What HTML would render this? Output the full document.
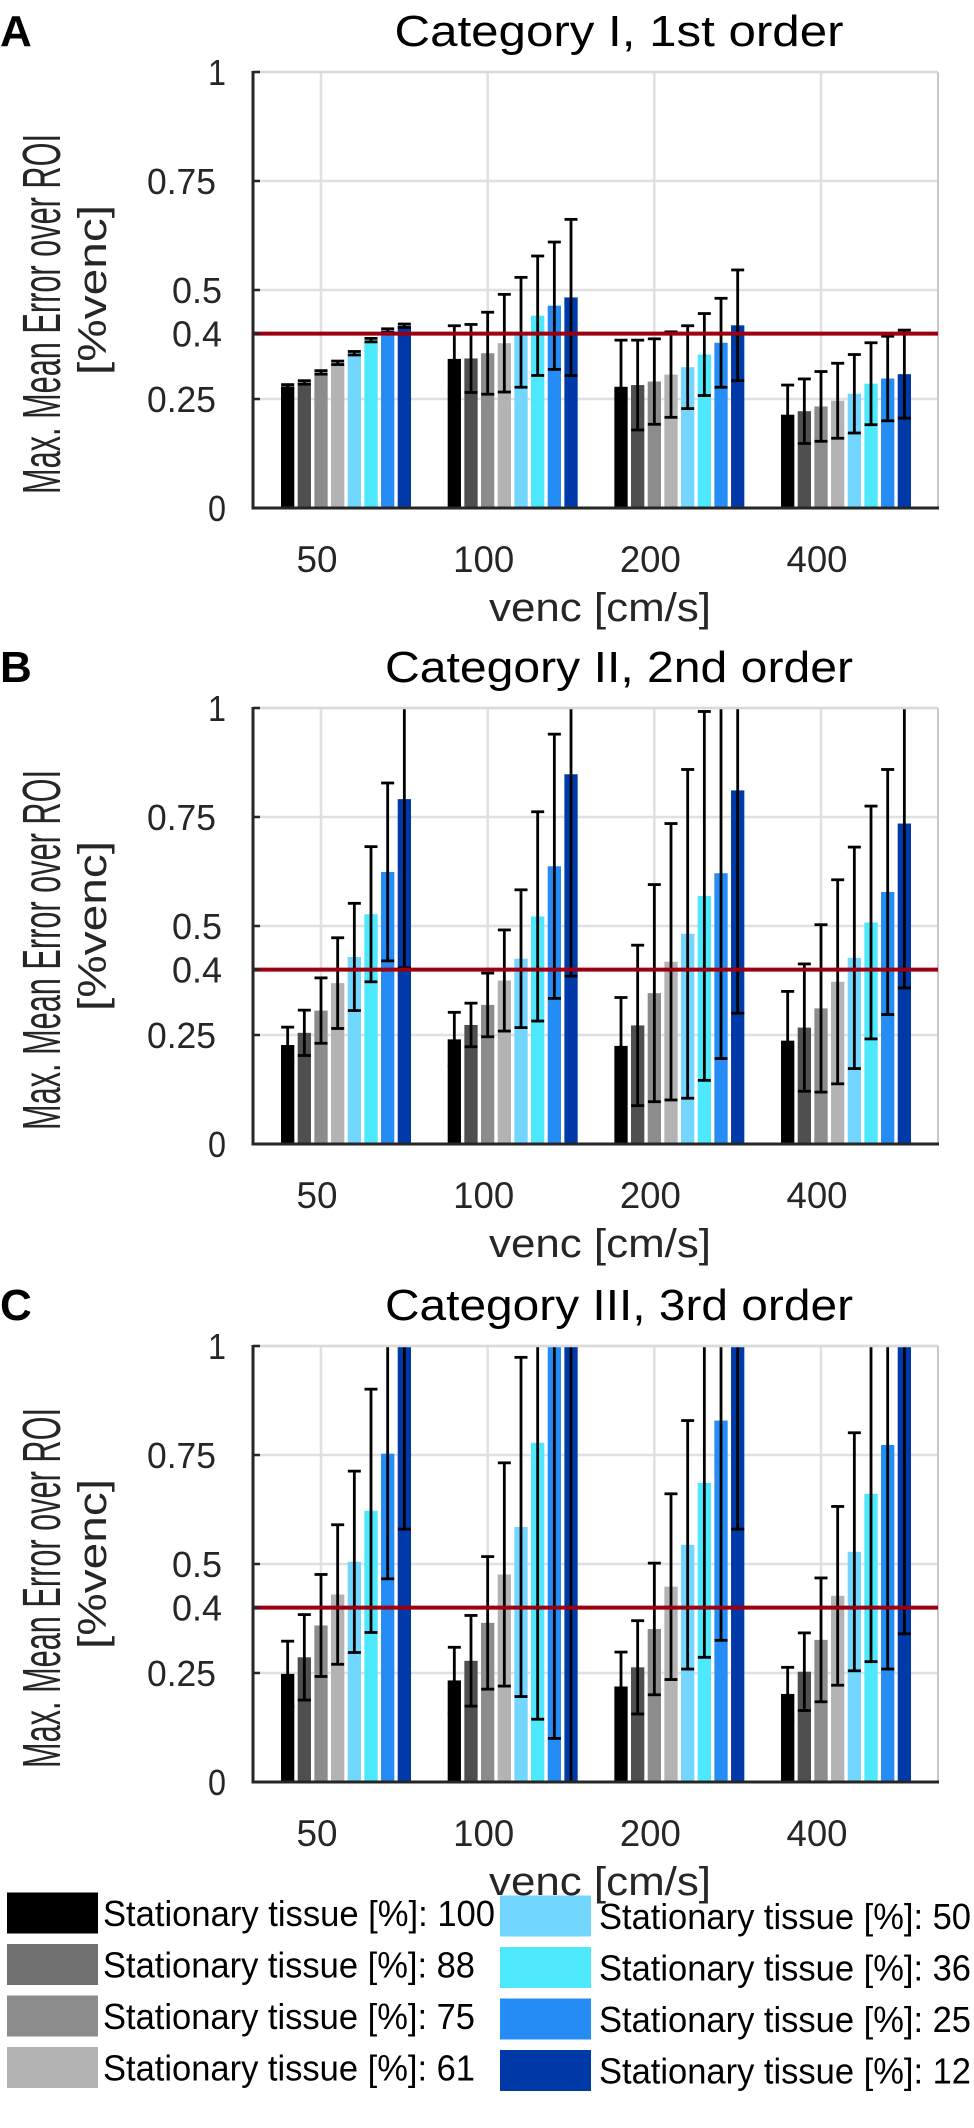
<!DOCTYPE html>
<html><head><meta charset="utf-8">
<style>
html,body{margin:0;padding:0;background:#fff;}
svg{display:block;font-family:"Liberation Sans",sans-serif;}
</style></head>
<body>
<svg id="fig" width="974" height="2128" viewBox="0 0 974 2128" xmlns="http://www.w3.org/2000/svg"></svg>
<script>
const categories = ["50","100","200","400"];
const seriesLabels = ["100","88","75","61","50","36","25","12"];
const yTicks = [0,0.25,0.4,0.5,0.75,1];
const yTickLabels = ["0","0.25","0.4","0.5","0.75","1"];
const panelTitles = ["Category I, 1st order","Category II, 2nd order","Category III, 3rd order"];
const panelLetters = ["A","B","C"];
const threshold = 0.4;

const valuesA = [
 [0.279,0.288,0.311,0.333,0.355,0.385,0.407,0.418],
 [0.342,0.343,0.355,0.378,0.403,0.441,0.464,0.483],
 [0.278,0.282,0.290,0.306,0.323,0.352,0.379,0.419],
 [0.214,0.222,0.233,0.246,0.262,0.285,0.297,0.307]];
const errorsA = [
 [0.004,0.004,0.004,0.004,0.004,0.004,0.004,0.004],
 [0.076,0.078,0.094,0.112,0.126,0.137,0.146,0.179],
 [0.107,0.103,0.098,0.098,0.095,0.094,0.102,0.127],
 [0.068,0.074,0.080,0.086,0.090,0.094,0.097,0.101]];
const valuesB = [
 [0.227,0.255,0.306,0.369,0.429,0.527,0.624,0.791],
 [0.240,0.273,0.319,0.375,0.425,0.522,0.637,0.848],
 [0.225,0.272,0.346,0.418,0.482,0.569,0.621,0.811],
 [0.237,0.267,0.311,0.372,0.427,0.508,0.578,0.735]];
const errorsB = [
 [0.041,0.052,0.075,0.104,0.123,0.155,0.204,0.387],
 [0.062,0.050,0.073,0.116,0.158,0.240,0.303,0.463],
 [0.111,0.184,0.249,0.317,0.377,0.423,0.425,0.511],
 [0.113,0.146,0.192,0.234,0.254,0.267,0.281,0.377]];
const valuesC = [
 [0.248,0.286,0.359,0.430,0.505,0.622,0.753,1.02],
 [0.233,0.278,0.365,0.476,0.585,0.778,1.05,1.10],
 [0.219,0.263,0.351,0.448,0.544,0.686,0.829,1.05],
 [0.202,0.253,0.326,0.427,0.528,0.661,0.773,1.02]];
const errorsC = [
 [0.075,0.098,0.117,0.160,0.208,0.279,0.287,0.44],
 [0.076,0.104,0.152,0.256,0.389,0.634,0.95,1.15],
 [0.079,0.107,0.151,0.213,0.285,0.400,0.504,0.47],
 [0.061,0.089,0.142,0.205,0.273,0.385,0.514,0.68]];

const barColors = ["#000000","#4f4f4f","#8c8c8c","#b3b3b3","#73d6ff","#4de8fc","#268cf5","#0039a8"];
const legendColors = ["#000000","#717171","#8c8c8c","#b3b3b3","#73d6ff","#4de8fc","#268cf5","#0039a8"];

const NS="http://www.w3.org/2000/svg";
const svg=document.getElementById('fig');
function mk(tag,attrs,parent){const e=document.createElementNS(NS,tag);for(const k in attrs)e.setAttribute(k,attrs[k]);(parent||svg).appendChild(e);return e;}

const panels=[{v:valuesA,e:errorsA,top:72},{v:valuesB,e:errorsB,top:708},{v:valuesC,e:errorsC,top:1346}];
const L=253,R=938,H=436;
const tick0=321,tickStep=166.67,barPitch=16.67,barW=13.3;
function xCat(i){return tick0+tickStep*i;}

panels.forEach((p,pi)=>{
  const top=p.top,bot=top+H;
  const y=v=>bot-v*H;
  const g=mk('g',{});
  
  
  const cp=mk('clipPath',{id:'clip'+pi},g);
  mk('rect',{x:L,y:top,width:R-L,height:H},cp);
  yTicks.forEach(t=>{ if(t===0||t===0.4)return;
    const l=mk('line',{x1:L,x2:R,y1:y(t),y2:y(t),stroke:'#e0e0e0','stroke-width':2.5},g);
    
    
  });
  categories.forEach((c,i)=>{
    const l=mk('line',{x1:xCat(i),x2:xCat(i),y1:top,y2:bot,stroke:'#e0e0e0','stroke-width':2.5},g);
    
    
  });
  mk('line',{x1:R,x2:R,y1:top,y2:bot,stroke:'#c8c8c8','stroke-width':2},g);
  const bg=mk('g',{'clip-path':'url(#clip'+pi+')'},g);
  p.v.forEach((row,i)=>{row.forEach((val,j)=>{
    const cx=xCat(i)+(j-2)*barPitch;
    const r=mk('rect',{x:cx-barW/2,y:y(val),width:barW,height:val*H,fill:barColors[j]},bg);
    
    
  });});
  p.v.forEach((row,i)=>{row.forEach((val,j)=>{
    const cx=xCat(i)+(j-2)*barPitch, er=p.e[i][j];
    const eg=mk('g',{stroke:'#000','stroke-width':2.8},bg);
    
    
    mk('line',{x1:cx,x2:cx,y1:y(val-er),y2:y(val+er)},eg);
    mk('line',{x1:cx-6.5,x2:cx+6.5,y1:y(val-er),y2:y(val-er)},eg);
    mk('line',{x1:cx-6.5,x2:cx+6.5,y1:y(val+er),y2:y(val+er)},eg);
  });});
  mk('line',{x1:L,x2:R,y1:top,y2:top,stroke:'#dadada','stroke-width':2.5},g);
  const th=mk('line',{x1:L,x2:R,y1:y(threshold),y2:y(threshold),stroke:'#9b0010','stroke-width':4},g);
  
  
  mk('line',{x1:L,x2:L,y1:top-1,y2:bot+1.5,stroke:'#262626','stroke-width':3},g);
  mk('line',{x1:L-1.5,x2:R+1,y1:bot,y2:bot,stroke:'#262626','stroke-width':3},g);
  yTicks.forEach((t,k)=>{
    mk('line',{x1:L,x2:L+7,y1:y(t),y2:y(t),stroke:'#262626','stroke-width':2.5},g);
    const lab=yTickLabels[k];
    const len=lab.length===4?69:(lab.length===3?50:18);
    const xe=lab.length===4?216:(lab.length===3?222:226);
    const tx=mk('text',{x:xe-len,y:y(t)+13,'font-size':36,fill:'#262626',textLength:len,lengthAdjust:'spacingAndGlyphs'},g);
    tx.textContent=lab;
    
    
  });
  categories.forEach((c,i)=>{
    const len=c.length===3?61:41;
    const tx=mk('text',{x:xCat(i)-4-len/2,y:bot+64,'font-size':37,fill:'#262626',textLength:len,lengthAdjust:'spacingAndGlyphs'},g);
    tx.textContent=c;
    
    
  });
  const xl=mk('text',{x:600,y:bot+113,'text-anchor':'middle','font-size':40,fill:'#262626',textLength:222,lengthAdjust:'spacingAndGlyphs'},g);
  xl.textContent='venc [cm/s]';
  
  
  const ttl=mk('text',{x:619,y:top-26,'text-anchor':'middle','font-size':44,fill:'#000',textLength:(pi===0?449:468),lengthAdjust:'spacingAndGlyphs'},g);
  ttl.textContent=panelTitles[pi];
  
  
  const let_=mk('text',{x:0,y:top-26,'font-size':44,'font-weight':'bold',fill:'#000'},g);
  let_.textContent=panelLetters[pi];
  
  
  const cy=(top+bot)/2;
  const y1=mk('text',{x:0,y:0,'text-anchor':'middle','font-size':54,fill:'#262626',textLength:360,lengthAdjust:'spacingAndGlyphs',transform:`translate(60,${cy+24}) rotate(-90)`},g);
  y1.textContent='Max. Mean Error over ROI';
  
  
  const y2=mk('text',{x:0,y:0,'text-anchor':'middle','font-size':40,fill:'#262626',textLength:170,lengthAdjust:'spacingAndGlyphs',transform:`translate(106,${cy}) rotate(-90)`},g);
  y2.textContent='[%venc]';
  
  
});

const lg=mk('g',{});


seriesLabels.forEach((s,j)=>{
  const col=j<4?0:1, row=j%4;
  const sx=col?500:7, tx=col?599:103;
  const cy=1913+row*51.5+(col?3:0);
  const e=mk('g',{},lg);
  
  
  mk('rect',{x:sx,y:cy-20.5,width:91,height:41,fill:legendColors[j]},e);
  const t=mk('text',{x:tx,y:cy+13,'font-size':36,fill:'#000',textLength:(s.length===3?392:372),lengthAdjust:'spacingAndGlyphs'},e);
  t.textContent='Stationary tissue [%]: '+s;
});
</script>
</body></html>
